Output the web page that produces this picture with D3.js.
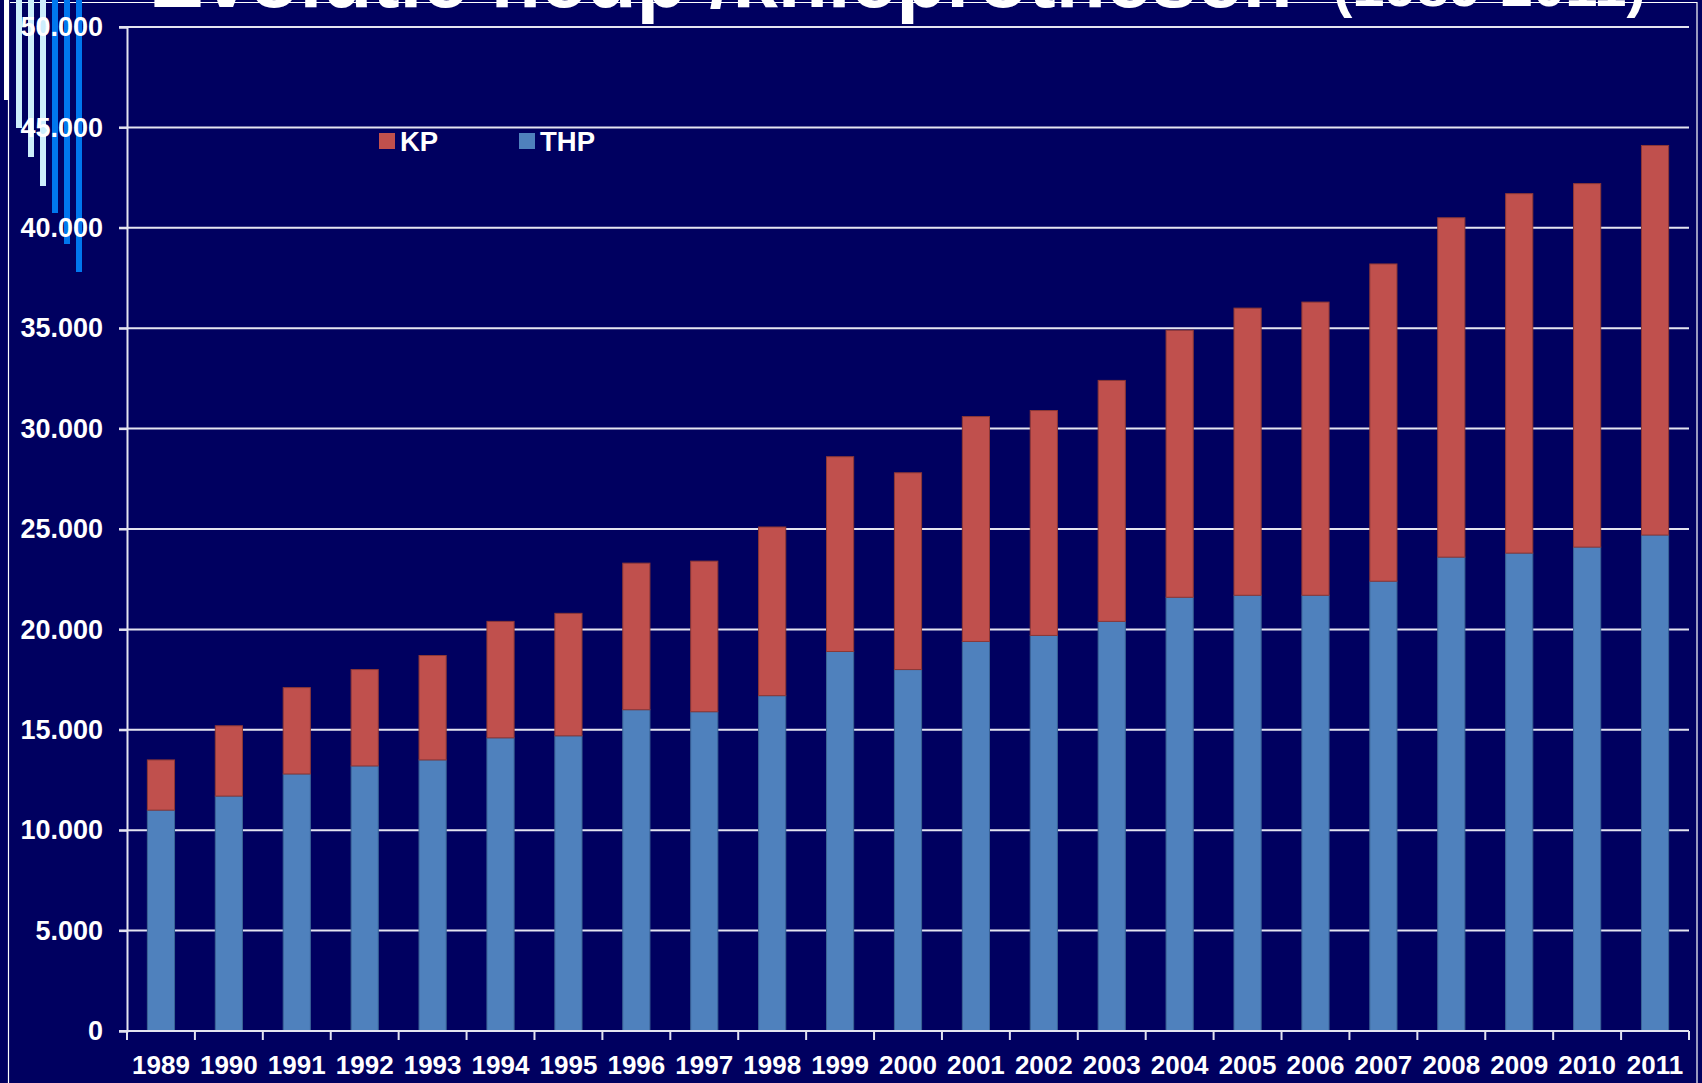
<!DOCTYPE html>
<html>
<head>
<meta charset="utf-8">
<script src="https://cdn.jsdelivr.net/npm/d3@7"></script>
<style>
  html, body { margin: 0; padding: 0; background: #000060; }
  svg { display: block; }
  text { font-family: "Liberation Sans", Arial, sans-serif; fill: #fff; font-weight: bold; }
</style>
</head>
<body>
<svg id="chart" width="1702" height="1083"></svg>
<script>
// data
var years = ['1989','1990','1991','1992','1993','1994','1995','1996','1997','1998','1999','2000',
             '2001','2002','2003','2004','2005','2006','2007','2008','2009','2010','2011'];
var thp = [11000, 11700, 12800, 13200, 13500, 14600, 14700, 16000, 15900, 16700, 18900, 18000,
           19400, 19700, 20400, 21600, 21700, 21700, 22400, 23600, 23800, 24100, 24700];
var kp  = [2500, 3500, 4300, 4800, 5200, 5800, 6100, 7300, 7500, 8400, 9700, 9800,
           11200, 11200, 12000, 13300, 14300, 14600, 15800, 16900, 17900, 18100, 19400];
var yTicks = [0, 5000, 10000, 15000, 20000, 25000, 30000, 35000, 40000, 45000, 50000];
var seriesNames = ['KP', 'THP'];

var colors = {KP: '#c0504d', THP: '#4f81bd'};
var strokes = {KP: '#8c3836', THP: '#3a6496'};

var svg = d3.select('#chart');
var W = 1702, H = 1083;
var margin = {top: 27, right: 12, bottom: 52, left: 127};

svg.append('rect').attr('width', W).attr('height', H).attr('fill', '#000060');

// slide decoration: frame lines and the bars in the top-left corner
var deco = svg.append('g').attr('class', 'deco');
deco.append('line').attr('x1', 10).attr('x2', 1697).attr('y1', 2.5).attr('y2', 2.5)
	.attr('stroke', '#fff').attr('stroke-width', 1.2);
deco.append('line').attr('x1', 1697).attr('x2', 1697).attr('y1', 2).attr('y2', H)
	.attr('stroke', '#fff').attr('stroke-width', 1.2);
deco.append('line').attr('x1', 8.5).attr('x2', 8.5).attr('y1', 0).attr('y2', H)
	.attr('stroke', '#fff').attr('stroke-width', 1.2);

var decoBars = [
	{x: 4, w: 5, h: 100, c: '#ffffff'},
	{x: 16, w: 6, h: 128, c: '#cdeefc'},
	{x: 28, w: 6, h: 157, c: '#cdeefc'},
	{x: 40, w: 6, h: 186, c: '#cdeefc'},
	{x: 52, w: 6, h: 213, c: '#0077ee'},
	{x: 64, w: 6, h: 244, c: '#0077ee'},
	{x: 76, w: 6, h: 272, c: '#0077ee'}
];
deco.selectAll('rect.db').data(decoBars).enter().append('rect')
	.attr('class', 'db')
	.attr('x', function(d){ return d.x; })
	.attr('y', 0)
	.attr('width', function(d){ return d.w; })
	.attr('height', function(d){ return d.h; })
	.attr('fill', function(d){ return d.c; });

// title, mostly cut off at the top of the slide (as in the original)
svg.append('text').attr('x', 149).attr('y', 7)
	.style('font-size', '82px')
	.text('Evolutie heup /knieprothesen');
svg.append('text').attr('x', 1333).attr('y', 6)
	.style('font-size', '58px')
	.text('(1989-2011)');

var x = d3.scaleBand()
	.domain(years)
	.range([margin.left, W - margin.right - 1])
	.paddingInner(0.6)
	.paddingOuter(0.3);

var y = d3.scaleLinear()
	.domain([0, 50000])
	.range([H - margin.bottom, margin.top]);

// gridlines
svg.append('g').attr('class', 'grid').selectAll('line')
	.data(yTicks.slice(1)).enter().append('line')
	.attr('x1', margin.left - 8)
	.attr('x2', W - margin.right - 1)
	.attr('y1', function(d){ return y(d); })
	.attr('y2', function(d){ return y(d); })
	.attr('stroke', '#e4e4f0')
	.attr('stroke-width', 2);

// stacked bars
var table = years.map(function(yr, i){ return {year: yr, THP: thp[i], KP: kp[i]}; });
var stack = d3.stack().keys(['THP', 'KP'])(table);

svg.append('g').attr('class', 'bars').selectAll('g')
	.data(stack).enter().append('g')
	.attr('fill', function(s){ return colors[s.key]; })
	.attr('stroke', function(s){ return strokes[s.key]; })
	.attr('stroke-width', 1)
	.selectAll('rect').data(function(s){ return s; }).enter().append('rect')
		.attr('x', function(d){ return x(d.data.year); })
		.attr('width', x.bandwidth())
		.attr('y', function(d){ return y(d[1]); })
		.attr('height', function(d){ return y(d[0]) - y(d[1]); });

// y axis
var fmt = function(v){ return v === 0 ? '0' : d3.format(',')(v).replace(',', '.'); };
var yAxis = svg.append('g').attr('class', 'y-axis')
	.attr('transform', 'translate(' + margin.left + ',0)')
	.call(d3.axisLeft(y).tickValues(yTicks).tickSize(8).tickPadding(16).tickFormat(fmt));
yAxis.select('.domain').attr('stroke', '#e4e4f0').attr('stroke-width', 2);
yAxis.selectAll('.tick line').attr('stroke', '#e4e4f0').attr('stroke-width', 2);
yAxis.selectAll('text').attr('fill', '#fff').style('font-size', '27px')
	.style('font-family', '"Liberation Sans", Arial, sans-serif').style('font-weight', 'bold');

// x axis: ticks between categories, like the spreadsheet chart
var xAxis = svg.append('g').attr('class', 'x-axis')
	.attr('transform', 'translate(0,' + y(0) + ')');
xAxis.append('line').attr('x1', margin.left - 8).attr('x2', W - margin.right - 1)
	.attr('stroke', '#e4e4f0').attr('stroke-width', 2);
var step = x.step();
xAxis.selectAll('line.tk').data(d3.range(years.length + 1)).enter().append('line')
	.attr('class', 'tk')
	.attr('x1', function(i){ return margin.left + i * step; })
	.attr('x2', function(i){ return margin.left + i * step; })
	.attr('y1', 0).attr('y2', 9)
	.attr('stroke', '#e4e4f0').attr('stroke-width', 2);
xAxis.selectAll('text').data(years).enter().append('text')
	.attr('x', function(d){ return x(d) + x.bandwidth() / 2; })
	.attr('y', 43)
	.attr('text-anchor', 'middle')
	.style('font-size', '26px')
	.text(function(d){ return d; });

// legend
var legend = svg.append('g').attr('class', 'legend');
var legX = [379, 519];
seriesNames.forEach(function(name, i){
	legend.append('rect').attr('x', legX[i]).attr('y', 133).attr('width', 16).attr('height', 16)
		.attr('fill', colors[name]);
	legend.append('text').attr('x', legX[i] + 21).attr('y', 151)
		.style('font-size', '27.5px').text(name);
});
</script>
</body>
</html>
